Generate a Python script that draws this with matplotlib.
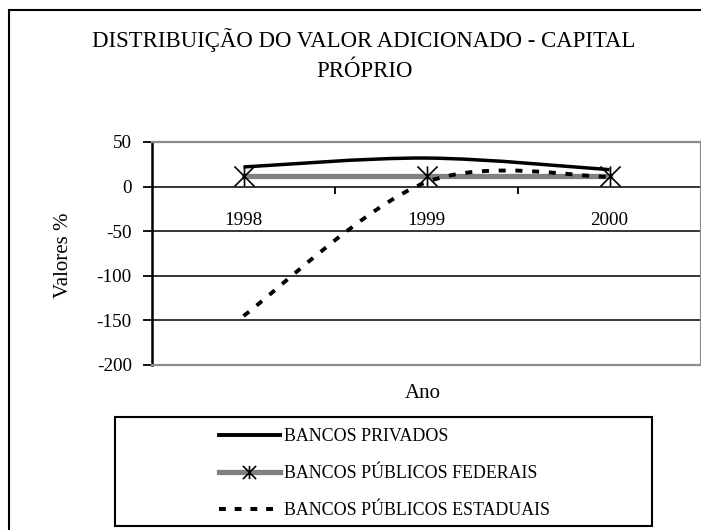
import numpy as np
import matplotlib
matplotlib.use("Agg")
import matplotlib.pyplot as plt
from matplotlib.path import Path
from matplotlib.patches import PathPatch, Rectangle
from matplotlib.lines import Line2D

plt.rcParams['font.family'] = ['Liberation Serif', 'DejaVu Serif']

# Data
anos = ["1998", "1999", "2000"]
privados = [22, 32, 19]
federais = [12, 12, 12]
estaduais = [-145, 5, 11]

labels = ["BANCOS PRIVADOS", "BANCOS PÚBLICOS FEDERAIS", "BANCOS PÚBLICOS ESTADUAIS"]
title_1 = "DISTRIBUIÇÃO DO VALOR ADICIONADO - CAPITAL"
title_2 = "PRÓPRIO"
y_ticks = [50, 0, -50, -100, -150, -200]

W, H = 701, 530


def fx(px):
    return px / W


def fy(py):
    return 1 - py / H


def smooth_path(ys):
    # Excel-like smoothed line: cubic bezier through each point
    xs = np.arange(len(ys), dtype=float)
    ys = np.asarray(ys, dtype=float)
    n = len(ys)
    verts = [(xs[0], ys[0])]
    codes = [Path.MOVETO]
    for i in range(n - 1):
        p0 = max(i - 1, 0)
        p3 = min(i + 2, n - 1)
        c1 = (xs[i] + (xs[i + 1] - xs[p0]) / 6, ys[i] + (ys[i + 1] - ys[p0]) / 6)
        c2 = (xs[i + 1] - (xs[p3] - xs[i]) / 6, ys[i + 1] - (ys[p3] - ys[i]) / 6)
        verts += [c1, c2, (xs[i + 1], ys[i + 1])]
        codes += [Path.CURVE4] * 3
    return Path(verts, codes)


# star marker: X with a vertical bar
star = Path([(-1, -1), (1, 1), (-1, 1), (1, -1), (0, -1), (0, 1)],
            [Path.MOVETO, Path.LINETO, Path.MOVETO, Path.LINETO, Path.MOVETO, Path.LINETO])

fig = plt.figure(figsize=(7.01, 5.30), dpi=100)
ax = fig.add_axes([fx(152), fy(365), fx(701 - 152), (365 - 142) / H])

dash = (0, (1.8, 2.5))

ax.add_patch(PathPatch(smooth_path(privados), fill=False, edgecolor="black",
                       linewidth=2.5, capstyle="butt", zorder=4))
ax.plot(range(len(federais)), federais, color="#808080", linewidth=3.8,
        marker=star, markersize=14.5, markeredgecolor="black",
        markeredgewidth=1.2, zorder=3)
ax.add_patch(PathPatch(smooth_path(estaduais), fill=False, edgecolor="black",
                       linewidth=2.8, linestyle=dash, capstyle="butt", zorder=5))

ax.set_xlim(-0.5, 2.5)
ax.set_ylim(-200, 50)
ax.set_yticks(y_ticks)
ax.set_yticklabels([str(v) for v in y_ticks])
ax.set_xticks([])
ax.tick_params(axis="y", direction="out", length=6.5, width=1.3, pad=8,
               labelsize=13.8, colors="black")
ax.yaxis.grid(True, color="black", linewidth=1.1)
ax.set_axisbelow(True)

for side in ["top", "right", "bottom"]:
    ax.spines[side].set_color("#8c8c8c")
    ax.spines[side].set_linewidth(1.6)
ax.spines["left"].set_color("black")
ax.spines["left"].set_linewidth(1.8)

# category axis crossing at zero
sec = ax.secondary_xaxis((0 - (-200)) / 250)
sec.set_alignment("bottom")
sec.spines["bottom"].set_visible(False)
sec.spines["top"].set_visible(False)
sec.set_xticks([0.5, 1.5])
sec.set_xticklabels(["", ""])
sec.set_xticks([0, 1, 2], minor=True)
sec.set_xticklabels(anos, minor=True)
sec.tick_params(axis="x", which="major", direction="out", length=5, width=1.3, color="black")
sec.tick_params(axis="x", which="minor", length=0, pad=18, labelsize=13.8)

fig.text(fx(63), fy(255), "Valores %", rotation=90, ha="center", va="center", fontsize=15)
fig.text(fx(423), fy(393), "Ano", ha="center", va="center", fontsize=15)

fig.text(fx(364), fy(47), title_1, ha="center", va="baseline", fontsize=16.4)
fig.text(fx(364), fy(77), title_2, ha="center", va="baseline", fontsize=16.4)

# outer chart border (cropped on right and bottom)
fig.patches.append(Rectangle((fx(8.5), -0.5), 2, fy(10) + 0.5, transform=fig.transFigure,
                             fill=False, edgecolor="black", linewidth=1.5))

# legend box
fig.patches.append(Rectangle((fx(115), fy(526)), fx(652 - 115), (526 - 417) / H,
                             transform=fig.transFigure, fill=False,
                             edgecolor="black", linewidth=1.5))
handles = [
    Line2D([], [], color="black", linewidth=2.8),
    Line2D([], [], color="#808080", linewidth=3.8, marker=star, markersize=9.5,
           markeredgecolor="black", markeredgewidth=1.2),
    Line2D([], [], color="black", linewidth=2.9, linestyle=(0, (1.7, 2.2)), dash_capstyle="butt"),
]
fig.legend(handles, labels, loc="upper left", bbox_to_anchor=(fx(219), fy(428)),
           bbox_transform=fig.transFigure, frameon=False, fontsize=12.9,
           handlelength=3.4, handletextpad=0.2, labelspacing=1.12,
           borderpad=0, borderaxespad=0)

fig.savefig("out.png", dpi=100)
